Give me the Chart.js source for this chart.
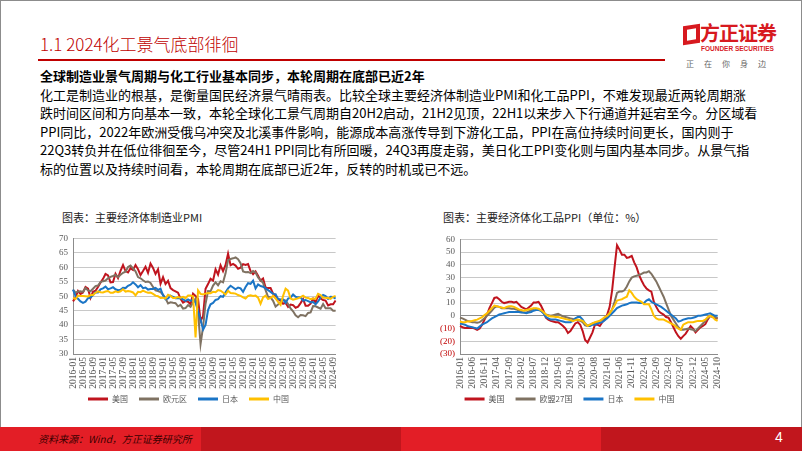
<!DOCTYPE html>
<html lang="zh-CN">
<head>
<meta charset="UTF-8">
<title>2024化工景气底部徘徊</title>
<script src="https://cdn.jsdelivr.net/npm/chart.js@4.4.1/dist/chart.umd.min.js"></script>
<style>
  html, body { margin: 0; padding: 0; }
  body { width: 802px; height: 451px; position: relative; overflow: hidden; background: #fff;
         font-family: "Noto Sans CJK SC", sans-serif; }
  .frame { position: absolute; left: 0; top: 0; width: 800px; height: 449px; border: 1px solid #8c8c8c; }
  .title { position: absolute; left: 40px; top: 31px; font-size: 17px; font-weight: 300; color: #C00000; white-space: nowrap; }
  .rule { position: absolute; left: 38px; top: 59px; width: 627px; height: 2px; background: #C00000; }
  .logo-icon { position: absolute; left: 683px; top: 25px; width: 9px; height: 11px; border: 4px solid #D7191F; transform: skewY(-8deg); }
  .logo-cn { position: absolute; left: 700px; top: 18px; font-size: 20px; font-weight: bold; color: #D7191F; letter-spacing: -1px; white-space: nowrap; }
  .logo-en { position: absolute; left: 701px; top: 45px; font-size: 6.5px; font-weight: bold; color: #D7191F; white-space: nowrap; font-family: "Liberation Sans", sans-serif; }
  .logo-slogan { position: absolute; left: 686px; top: 58px; font-size: 8px; color: #666; letter-spacing: 10px; white-space: nowrap; }
  .text { position: absolute; left: 40px; top: 67px; font-size: 13px; line-height: 18.5px; color: #000; white-space: nowrap; }
  .text b { font-weight: bold; }
  .ctitle { position: absolute; top: 209px; font-size: 11px; color: #222; white-space: nowrap; }
  .box { position: absolute; }
  .footer { position: absolute; left: 0; top: 427px; width: 802px; height: 24px; }
  .footer div { position: absolute; top: 0; height: 24px; }
  .src { position: absolute; left: 38px; top: 431px; font-size: 10px; font-style: italic; color: #3b0000; white-space: nowrap; }
  .page { position: absolute; left: 775px; top: 429px; font-size: 14px; color: #fff; font-family: "Liberation Sans", sans-serif; }
</style>
</head>
<body>
<div class="frame"></div>
<div class="title">1.1 2024化工景气底部徘徊</div>
<div class="rule"></div>
<div class="logo-icon"></div>
<div class="logo-cn">方正证券</div>
<div class="logo-en">FOUNDER SECURITIES</div>
<div class="logo-slogan">正在你身边</div>

<div class="text">
  <b>全球制造业景气周期与化工行业基本同步，本轮周期在底部已近2年</b><br>
  化工是制造业的根基，是衡量国民经济景气晴雨表。比较全球主要经济体制造业PMI和化工品PPI，不难发现最近两轮周期涨<br>
  跌时间区间和方向基本一致，本轮全球化工景气周期自20H2启动，21H2见顶，22H1以来步入下行通道并延宕至今。分区域看<br>
  PPI同比，2022年欧洲受俄乌冲突及北溪事件影响，能源成本高涨传导到下游化工品，PPI在高位持续时间更长，国内则于<br>
  22Q3转负并在低位徘徊至今，尽管24H1 PPI同比有所回暖，24Q3再度走弱，美日化工PPI变化则与国内基本同步。从景气指<br>
  标的位置以及持续时间看，本轮周期在底部已近2年，反转的时机或已不远。
</div>

<div class="ctitle" style="left:62px">图表：主要经济体制造业PMI</div>
<div class="ctitle" style="left:443px">图表：主要经济体化工品PPI（单位：%）</div>

<div class="box" style="left:40px; top:228px; width:310px; height:180px;"><canvas id="pmiChart"></canvas></div>
<div class="box" style="left:420px; top:229px; width:312px; height:179px;"><canvas id="ppiChart"></canvas></div>

<div class="footer">
  <div style="left:0; width:201px; background:#E31E26;"></div>
  <div style="left:201px; width:200px; background:#C1161D;"></div>
  <div style="left:401px; width:200px; background:#E31E26;"></div>
  <div style="left:601px; width:201px; background:#C1161D;"></div>
</div>
<div class="src">资料来源：Wind，方正证券研究所</div>
<div class="page">4</div>

<script>
// months 2016-01 .. 2024-10
var months = [];
for (var y = 2016; y <= 2024; y++) {
  for (var m = 1; m <= 12; m++) {
    if (y === 2024 && m > 10) break;
    months.push(y + '-' + (m < 10 ? '0' + m : m));
  }
}

// manufacturing PMI
var pmiUS = [
  48.2, 49.5, 51.8, 50.8, 51.3, 53.2, 52.6, 49.4, 51.5, 51.9, 53.2, 54.7,
  56.0, 57.7, 57.2, 54.8, 54.9, 57.8, 56.3, 58.8, 60.8, 58.7, 58.2, 59.7,
  59.1, 60.8, 59.3, 57.3, 58.7, 60.2, 58.1, 61.3, 59.8, 57.7, 59.3, 54.3,
  56.6, 54.2, 55.3, 52.8, 52.1, 51.7, 51.2, 49.1, 47.8, 48.3, 48.1, 47.2,
  50.9, 50.1, 49.1, 41.5, 43.1, 52.6, 54.2, 56.0, 55.4, 59.3, 57.5, 60.7,
  58.7, 60.8, 64.7, 60.7, 61.2, 60.6, 59.5, 59.9, 61.1, 60.8, 61.1, 58.7,
  57.6, 58.6, 57.1, 55.4, 56.1, 53.0, 52.8, 52.8, 50.9, 50.2, 49.0, 48.4,
  47.4, 47.7, 46.3, 47.1, 46.9, 46.0, 46.4, 47.6, 49.0, 46.7, 46.7, 47.4,
  49.1, 47.8, 50.3, 49.2, 48.7, 48.5, 46.8, 47.2, 47.2, 48.5
];
var pmiEZ = [
  52.3, 51.2, 51.6, 51.7, 51.5, 52.8, 52.0, 51.7, 52.6, 53.5, 53.7, 54.9,
  55.2, 55.4, 56.2, 56.7, 57.0, 57.4, 56.6, 57.4, 58.1, 58.5, 60.1, 60.6,
  59.6, 58.6, 56.6, 56.2, 55.5, 54.9, 55.1, 54.6, 53.2, 52.0, 51.8, 51.4,
  50.5, 49.3, 47.5, 47.9, 47.7, 47.6, 46.5, 47.0, 45.7, 45.9, 46.9, 46.3,
  47.9, 49.2, 44.5, 33.4, 39.4, 47.4, 51.8, 51.7, 53.7, 54.8, 53.8, 55.2,
  54.8, 57.9, 62.5, 62.9, 63.1, 63.4, 62.8, 61.4, 58.6, 58.3, 58.4, 58.0,
  58.7, 58.2, 56.5, 55.5, 54.6, 52.1, 49.8, 49.6, 48.4, 46.4, 47.1, 47.8,
  48.8, 48.5, 47.3, 45.8, 44.8, 43.4, 42.7, 43.5, 43.4, 43.1, 44.2, 44.4,
  46.6, 46.5, 46.1, 45.7, 47.3, 45.8, 45.8, 45.8, 45.0, 45.0
];
var pmiJP = [
  52.3, 50.1, 49.1, 48.2, 47.7, 48.1, 49.3, 49.5, 50.4, 51.4, 51.3, 52.4,
  52.7, 53.3, 52.4, 52.7, 53.1, 52.4, 52.1, 52.2, 52.9, 52.8, 53.6, 54.0,
  54.8, 54.1, 53.1, 53.8, 52.8, 53.0, 52.3, 52.5, 52.5, 52.9, 52.2, 52.6,
  50.3, 48.9, 49.2, 50.2, 49.8, 49.3, 49.4, 49.3, 48.9, 48.4, 48.9, 48.4,
  48.8, 47.8, 44.8, 41.9, 38.4, 40.1, 45.2, 47.2, 47.7, 48.7, 49.0, 50.0,
  49.8, 51.4, 52.7, 53.6, 53.0, 52.4, 53.0, 52.7, 51.5, 53.2, 54.5, 54.3,
  55.4, 52.7, 54.1, 53.5, 53.3, 52.7, 52.1, 51.5, 50.8, 50.7, 49.0, 48.9,
  48.9, 47.7, 49.2, 49.5, 50.6, 49.8, 49.6, 49.6, 48.5, 48.7, 48.3, 47.9,
  48.0, 47.2, 48.2, 49.6, 50.4, 50.0, 49.1, 49.8, 49.7, 49.2
];
var pmiCN = [
  49.4, 49.0, 50.2, 50.1, 50.1, 50.0, 49.9, 50.4, 50.4, 51.2, 51.7, 51.4,
  51.3, 51.6, 51.8, 51.2, 51.2, 51.7, 51.4, 51.7, 52.4, 51.6, 51.8, 51.6,
  51.3, 50.3, 51.5, 51.4, 51.9, 51.5, 51.2, 51.3, 50.8, 50.2, 50.0, 49.4,
  49.5, 49.2, 50.5, 50.1, 49.4, 49.4, 49.7, 49.5, 49.8, 49.3, 50.2, 50.2,
  50.0, 35.7, 52.0, 50.8, 50.6, 50.9, 51.1, 51.0, 51.5, 51.4, 52.1, 51.9,
  51.3, 50.6, 51.9, 51.1, 51.0, 50.9, 50.4, 50.1, 49.6, 49.2, 50.1, 50.3,
  50.1, 50.2, 49.5, 47.4, 49.6, 50.2, 49.0, 49.4, 50.1, 49.2, 48.0, 47.0,
  50.1, 52.6, 51.9, 49.2, 48.8, 49.0, 49.3, 49.7, 50.2, 49.5, 49.4, 49.0,
  49.2, 49.1, 50.8, 50.4, 49.5, 49.5, 49.4, 49.1, 49.8, 50.1
];

// chemical PPI yoy, %
var ppiUS = [
  -8, -9, -9.5, -9.5, -9.5, -9.5, -10, -11, -10, -7, -3, 1,
  6, 10, 14, 14.5, 13, 11, 10, 10.5, 11, 11, 10.5, 11,
  9, 7, 6, 5, 6.5, 8, 10.5, 10.5, 11, 8, 4, -1.5,
  -3, -4, -4.5, -5, -5, -6.5, -8, -10, -13.5, -12, -9, -6,
  -5, -7, -12, -19, -21, -17, -13, -7, -7, -8, -5, -3,
  1, 7, 20, 38, 55.5, 52, 48, 48, 45.5, 46, 47, 42,
  38, 32, 27.7, 24, 21.5, 20, 19, 11, 7, 3.6, 2, 1,
  -1, -1.5, -5, -9, -13, -16, -18, -16, -14, -11, -8, -10,
  -13, -11, -9, -8, -6.6, -2.8, 0, -1, -1.5, -2.3
];
var ppiEU = [
  -1.5, -2, -3, -4, -4.5, -5, -5, -5.5, -5, -3.5, -2, 0,
  2, 4, 6.5, 7.5, 7, 6, 6, 6, 6, 5.5, 5.5, 5,
  4, 3, 2.5, 2.5, 3.5, 4.5, 5.5, 5.5, 5, 4, 2.5, 1,
  0.5, 0, 0.5, 1, 1.5, 0.5, -0.5, -1, -1.5, -2, -2.5, -3,
  -3.5, -4, -5, -7.5, -8, -7, -6, -5.5, -5, -4, -3, -1.5,
  0, 2, 5, 11, 18, 19, 19, 20, 23, 27, 30, 31,
  31.5, 32, 33, 34, 34, 35, 33, 30, 27, 23, 19, 15,
  10, 5, 0, -3, -6, -9, -11, -11, -10.5, -10, -10.5, -11,
  -12, -10, -8, -6, -4, -2, 0, 0, -1, -2
];
var ppiJP = [
  -6, -6.5, -7, -8, -8.5, -9, -9.5, -10, -8.5, -7, -6, -5,
  -3.5, -2, -1, 0, 1, 1.5, 2, 2.5, 3, 3, 3, 3,
  3, 2.5, 2.5, 2, 2.5, 3, 4, 4.5, 4.5, 4, 2, -1,
  -2, -3, -3, -3, -3.5, -4, -4.5, -5, -5, -5, -4, -2,
  -1, -1, -3, -6, -8, -8, -7, -7, -6, -5.5, -5, -3.5,
  -2, 0, 2, 4, 6, 7, 8, 8.5, 9, 10, 10.5, 10.5,
  10.5, 10, 10, 10, 12, 13, 11, 10, 9, 8, 7, 5.5,
  4, 2.5, 1, -0.5, -2, -4.5, -4, -3, -2.5, -2, -2, -1.5,
  -1, 0, 0, 0.5, 1, 1.5, 2, 1, 0, 0
];
var ppiCN = [
  -4.5, -5, -5, -4.5, -4.5, -4, -3.5, -3, -2, -1, 0.5, 2,
  4, 6, 8, 7.5, 7, 6.5, 6, 7, 7.5, 7.5, 7, 6,
  5, 4.5, 4, 4.5, 5, 5.5, 6, 6, 5.5, 4.5, 3, 1,
  0, -0.5, -0.5, -1, -1, -1.5, -2, -2.5, -3, -3.5, -4, -3.5,
  -3, -3.5, -4, -6, -8, -7, -6, -5, -4.5, -4, -2.5, -1,
  0, 2, 5, 8, 12, 12.5, 13, 14, 15, 20, 18, 15,
  13, 12, 11, 9, 9, 9, 5, 0, -2, -3, -3, -3,
  -4, -5, -6, -7, -8.5, -10, -11, -7, -6, -5, -5, -5,
  -4.5, -4, -4, -4, -3, -1, 0, -1, -3, -4
];

var RED = '#C0141E', BROWN = '#7F7262', BLUE = '#1B75C6', YELLOW = '#FFC000';

function series(label, data, color, order) {
  return { label: label, data: data, borderColor: color, backgroundColor: color,
           borderWidth: 2, pointRadius: 0, tension: 0, order: order };
}

function makeChart(id, names, sets, yOpts, yWidth, step) {
  var colors = [RED, BROWN, BLUE, YELLOW];
  return new Chart(document.getElementById(id), {
    type: 'line',
    data: {
      labels: months,
      datasets: sets.map(function (d, i) { return series(names[i], d, colors[i], 3 - i); })
    },
    options: {
      responsive: true,
      maintainAspectRatio: false,
      animation: false,
      layout: { padding: { top: 8, right: 5, left: 0, bottom: 0 } },
      plugins: {
        tooltip: { enabled: false },
        legend: {
          position: 'bottom',
          maxHeight: 16,
          labels: {
            boxWidth: 20, boxHeight: 3, padding: 3, color: '#595959',
            font: { family: 'Noto Sans CJK SC', size: 8 },
            sort: function (a, b) { return a.datasetIndex - b.datasetIndex; },
            generateLabels: function (chart) {
              return Chart.defaults.plugins.legend.labels.generateLabels(chart).map(function (l) {
                l.fillStyle = l.strokeStyle; l.lineWidth = 0; l.text = l.text + '\u3000'; return l;
              });
            }
          }
        }
      },
      scales: {
        x: {
          grid: { display: false, drawTicks: false },
          border: { display: true, color: '#8c8c8c' },
          afterFit: function (a) { a.height = 38; },
          ticks: {
            autoSkip: false, minRotation: 90, maxRotation: 90, padding: 3,
            color: '#595959', font: { family: 'Liberation Serif', size: 9.5 },
            callback: function (v, i) { return i % step === 0 ? months[i] : ''; }
          }
        },
        y: {
          min: yOpts.min, max: yOpts.max,
          afterFit: function (a) { a.width = yWidth; },
          grid: {
            drawTicks: false,
            color: function (c) { return c.tick && c.tick.value === 0 && yOpts.min < 0 ? '#8c8c8c' : '#C8C8C8'; }
          },
          border: { display: true, color: '#8c8c8c' },
          ticks: {
            autoSkip: false, stepSize: yOpts.step, padding: 5,
            font: { family: 'Liberation Serif', size: 9 },
            color: function (c) { return c.tick.value < 0 ? '#C00000' : '#595959'; },
            callback: function (v) { return v < 0 ? '(' + Math.abs(v) + ')' : v; }
          }
        }
      }
    }
  });
}

makeChart('pmiChart', ['美国', '欧元区', '日本', '中国'], [pmiUS, pmiEZ, pmiJP, pmiCN],
  { min: 30, max: 70, step: 5 }, 33, 4);
makeChart('ppiChart', ['美国', '欧盟27国', '日本', '中国'], [ppiUS, ppiEU, ppiJP, ppiCN],
  { min: -30, max: 60, step: 10 }, 40, 5);
</script>
</body>
</html>
